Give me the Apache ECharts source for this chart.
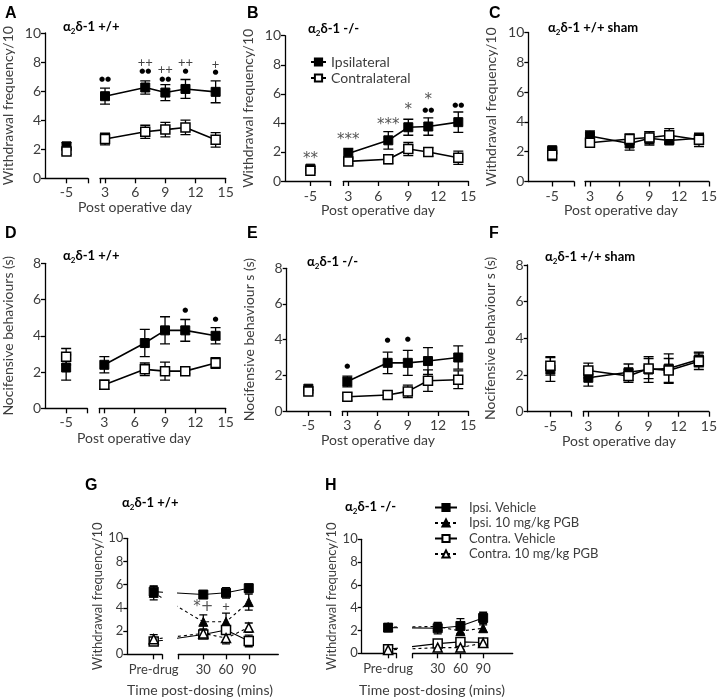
<!DOCTYPE html>
<html><head><meta charset="utf-8">
<script src="https://cdn.jsdelivr.net/npm/echarts@6/dist/echarts.min.js"></script>
<style>html,body{margin:0;padding:0;background:#fff}#c{width:720px;height:698px}</style>
</head><body><div id="c"></div>
<script>
// ---------------- DATA ----------------
const daysAF = [-5, 3, 7, 9, 11, 14];
const dayTickLabels = [3, 6, 9, 12, 15];
const preTickLabels = [-5];

const A_ipsi = [2.2, 5.65, 6.25, 5.9, 6.15, 5.95];
const A_ipsiErr = [0.25, 0.55, 0.45, 0.55, 0.65, 0.75];
const A_contra = [1.85, 2.7, 3.2, 3.35, 3.5, 2.65];
const A_contraErr = [0.2, 0.4, 0.45, 0.5, 0.5, 0.5];
const A_marks = [[3, 6.8, '●●'], [7, 7.35, '●●'], [7, 7.95, '++'], [9, 6.8, '●●'], [9, 7.45, '++'], [11, 7.35, '●'], [11, 7.95, '++'], [14, 7.3, '●'], [14, 7.8, '+']];

const B_ipsi = [0.85, 1.9, 2.8, 3.7, 3.75, 4.05];
const B_ipsiErr = [0.15, 0.35, 0.6, 0.55, 0.6, 0.7];
const B_contra = [0.7, 1.35, 1.5, 2.2, 2.0, 1.6];
const B_contraErr = [0.15, 0.15, 0.3, 0.45, 0.3, 0.45];
const B_marks = [[-5, 1.5, '**'], [3, 2.8, '***'], [7, 3.85, '***'], [9, 4.9, '*'], [11, 5.6, '*'], [11, 4.9, '●●'], [14, 5.2, '●●']];

const C_ipsi = [2.1, 3.05, 2.55, 2.9, 2.75, 2.9];
const C_ipsiErr = [0.2, 0.35, 0.45, 0.45, 0.2, 0.3];
const C_contra = [1.8, 2.6, 2.85, 2.95, 3.1, 2.8];
const C_contraErr = [0.4, 0.2, 0.35, 0.4, 0.45, 0.45];
const C_marks = [];

const D_ipsi = [2.25, 2.4, 3.6, 4.3, 4.3, 4.0];
const D_ipsiErr = [0.7, 0.45, 0.75, 0.75, 0.6, 0.45];
const D_contra = [2.85, 1.3, 2.15, 2.05, 2.05, 2.5];
const D_contraErr = [0.45, 0.25, 0.35, 0.5, 0.15, 0.3];
const D_marks = [[11, 5.4, '●'], [14, 4.9, '●']];

const E_ipsi = [1.25, 1.65, 2.7, 2.7, 2.8, 3.0];
const E_ipsiErr = [0.1, 0.3, 0.6, 0.7, 0.75, 0.65];
const E_contra = [1.1, 0.8, 0.9, 1.1, 1.7, 1.75];
const E_contraErr = [0.1, 0.2, 0.15, 0.35, 0.6, 0.5];
const E_marks = [[3, 2.5, '●'], [7, 3.95, '●'], [9, 4.05, '●']];

const F_ipsi = [2.3, 1.85, 2.15, 2.3, 2.35, 2.85];
const F_ipsiErr = [0.65, 0.45, 0.45, 0.7, 0.8, 0.4];
const F_contra = [2.5, 2.25, 1.95, 2.35, 2.25, 2.75];
const F_contraErr = [0.5, 0.4, 0.35, 0.55, 0.65, 0.45];
const F_marks = [];

// G / H : time axis; pre-drug is plotted at its own slot on the broken axis
const timesGH = [-35, 30, 60, 90];
const timeLabelsGH = ['Pre-drug', '30', '60', '90'];

const G_ipsiVeh = [5.4, 5.15, 5.3, 5.7];
const G_ipsiVehErr = [0.45, 0.3, 0.45, 0.35];
const G_ipsiPGB = [5.3, 2.8, 2.8, 4.5];
const G_ipsiPGBErr = [0.6, 0.6, 0.75, 0.7];
const G_contraVeh = [1.1, 1.7, 2.1, 1.15];
const G_contraVehErr = [0.3, 0.3, 0.35, 0.5];
const G_contraPGB = [1.3, 1.8, 1.4, 2.3];
const G_contraPGBErr = [0.4, 0.3, 0.5, 0.4];
const G_marks = [[30, 4.1, '*+'], [60, 4.1, '+']];

const H_ipsiVeh = [2.25, 2.2, 2.4, 3.1];
const H_ipsiVehErr = [0.3, 0.5, 0.65, 0.5];
const H_ipsiPGB = [2.3, 2.35, 1.95, 2.2];
const H_ipsiPGBErr = [0.3, 0.3, 0.3, 0.3];
const H_contraVeh = [0.35, 0.85, 1.0, 0.95];
const H_contraVehErr = [0.2, 0.2, 0.35, 0.3];
const H_contraPGB = [0.3, 0.5, 0.5, 0.9];
const H_contraPGBErr = [0.15, 0.15, 0.15, 0.25];
const H_marks = [];

const legendAF = ['Ipsilateral', 'Contralateral'];
const legendGH = ['Ipsi. Vehicle', 'Ipsi. 10 mg/kg PGB', 'Contra. Vehicle', 'Contra. 10 mg/kg PGB'];

// ---------------- LAYOUT / STYLE ----------------
const FONT = 'Lato';
const TXT = '#3d3d3d';
const grids = [], xAxis = [], yAxis = [], series = [], graphic = [];

function addAxes(cfg) {
  const gi = grids.length;
  grids.push({left: cfg.L[0], top: cfg.L[1], width: cfg.L[2], height: cfg.L[3]});
  grids.push({left: cfg.R[0], top: cfg.R[1], width: cfg.R[2], height: cfg.R[3]});
  const axLine = {show: true, onZero: false, lineStyle: {color: '#000', width: 1.3}};
  const tick = {show: true, length: 5, lineStyle: {color: '#000', width: 1.3}};
  const lab = {color: TXT, fontFamily: FONT, fontSize: cfg.fs, margin: cfg.xMargin, formatter: cfg.fmt};
  xAxis.push({gridIndex: gi, type: 'value', min: cfg.xL[0], max: cfg.xL[1], axisLine: axLine,
    axisTick: Object.assign({}, tick, {customValues: cfg.tickL}),
    axisLabel: Object.assign({}, lab, {customValues: cfg.labL}), splitLine: {show: false}});
  xAxis.push({gridIndex: gi + 1, type: 'value', min: cfg.xR[0], max: cfg.xR[1], axisLine: axLine,
    axisTick: Object.assign({}, tick, {customValues: cfg.tickR}),
    axisLabel: Object.assign({}, lab, {customValues: cfg.labR}), splitLine: {show: false}});
  yAxis.push({gridIndex: gi, type: 'value', min: 0, max: cfg.ymax, interval: 2,
    name: cfg.yName, nameLocation: 'middle', nameGap: cfg.nameGap,
    nameTextStyle: {color: TXT, fontFamily: FONT, fontSize: cfg.nameFs},
    axisLine: axLine, axisTick: {show: true, length: 4, lineStyle: {color: '#000', width: 1.3}},
    axisLabel: {color: TXT, fontFamily: FONT, fontSize: cfg.fs, margin: 4}, splitLine: {show: false}});
  yAxis.push({gridIndex: gi + 1, type: 'value', min: 0, max: cfg.ymax, show: false});
  return gi;
}

function errSeries(data, ai, cap) {
  return {type: 'custom', xAxisIndex: ai, yAxisIndex: ai, clip: true, z: 2, silent: true, data: data,
    encode: {x: 0, y: 1},
    renderItem: function (params, api) {
      const x = api.value(0), y = api.value(1), e = api.value(2);
      const t = api.coord([x, y + e]), b = api.coord([x, y - e]);
      const st = {stroke: '#000', lineWidth: 1.3, fill: null};
      return {type: 'group', children: [
        {type: 'line', shape: {x1: t[0], y1: t[1], x2: b[0], y2: b[1]}, style: st},
        {type: 'line', shape: {x1: t[0] - cap, y1: t[1], x2: t[0] + cap, y2: t[1]}, style: st},
        {type: 'line', shape: {x1: b[0] - cap, y1: b[1], x2: b[0] + cap, y2: b[1]}, style: st}
      ]};
    }};
}

function lineSeries(name, data, ai, filled, symbol, dashed, lw, z) {
  return {type: 'line', name: name, xAxisIndex: ai, yAxisIndex: ai, data: data, clip: true, z: z,
    symbol: symbol, symbolSize: 9, showSymbol: true, animation: false, silent: true,
    lineStyle: {color: '#000', width: lw, type: dashed ? [3, 3] : 'solid'},
    itemStyle: filled ? {color: '#000', borderColor: '#000', borderWidth: 1}
                      : {color: '#fff', borderColor: '#000', borderWidth: 1.5},
    emphasis: {disabled: true}};
}

function markSeries(marks, ai) {
  if (!marks.length) return null;
  return {type: 'custom', xAxisIndex: ai, yAxisIndex: ai, z: 6, silent: true, clip: false,
    data: marks.map(m => [m[0], m[1]]), encode: {x: 0, y: 1},
    renderItem: function (params, api) {
      const p = api.coord([api.value(0), api.value(1)]);
      const t = marks[params.dataIndex][2];
      let font = '13px Lato', fill = '#444';
      if (t.indexOf('●') >= 0) { font = '7px "DejaVu Sans"'; fill = '#000'; }
      else if (t.indexOf('*') >= 0) { font = '15px "DejaVu Sans"'; fill = '#555'; }
      return {type: 'text', x: p[0], y: p[1], style: {text: t, font: font, fill: fill,
        align: 'center', verticalAlign: 'middle', textAlign: 'center', textVerticalAlign: 'middle'}};
    }};
}

function titleRich(x, y, rest) {
  graphic.push({type: 'text', x: x, y: y, style: {
    text: '{a|α}{s|2}{a|δ-1 ' + rest + '}', verticalAlign: 'middle', textVerticalAlign: 'middle',
    rich: {a: {fontFamily: FONT, fontWeight: 'bold', fontSize: 13, fill: '#000', lineHeight: 16, verticalAlign: 'middle'},
           s: {fontFamily: FONT, fontWeight: 'bold', fontSize: 8, fill: '#000', lineHeight: 16, verticalAlign: 'bottom'}}}});
}
function letter(x, y, t) {
  graphic.push({type: 'text', x: x, y: y, style: {text: t, font: 'bold 16px "Liberation Sans"', fill: '#000',
    verticalAlign: 'middle', textVerticalAlign: 'middle'}});
}
function xName(x, y, t) {
  graphic.push({type: 'text', x: x, y: y, style: {text: t, fontFamily: FONT, fontSize: 14, fill: TXT,
    align: 'center', textAlign: 'center', verticalAlign: 'middle', textVerticalAlign: 'middle'}});
}

const panelsAF = [
  {k: 'A', ipsi: A_ipsi, ie: A_ipsiErr, con: A_contra, ce: A_contraErr, marks: A_marks, ymax: 10,
   yName: 'Withdrawal frequency/10', L: [45, 33, 43, 145.3], R: [100, 33, 125.7, 145.3], xL: [-7, -3],
   letter: [5, 14], title: [63, 27, '+/+'], xname: [135, 207], xm: 7},
  {k: 'B', ipsi: B_ipsi, ie: B_ipsiErr, con: B_contra, ce: B_contraErr, marks: B_marks, ymax: 10,
   yName: 'Withdrawal frequency/10', L: [285, 35.7, 45.7, 145.3], R: [343.3, 35.7, 125, 145.3], xL: [-7.5, -3],
   letter: [247, 14], title: [308, 29, '-/-'], xname: [378, 210], xm: 8},
  {k: 'C', ipsi: C_ipsi, ie: C_ipsiErr, con: C_contra, ce: C_contraErr, marks: C_marks, ymax: 10,
   yName: 'Withdrawal frequency/10', L: [528.3, 32.5, 45.7, 149], R: [585, 32.5, 126.7, 149], xL: [-7.2, -3],
   letter: [489, 14], title: [548, 28, '+/+ sham'], xname: [621, 210], xm: 8},
  {k: 'D', ipsi: D_ipsi, ie: D_ipsiErr, con: D_contra, ce: D_contraErr, marks: D_marks, ymax: 8,
   yName: 'Nocifensive behaviours (s)', L: [44.3, 263.3, 43, 145], R: [99.3, 263.3, 126.4, 145], xL: [-7, -3],
   letter: [5, 234], title: [63, 256, '+/+'], xname: [134, 438], xm: 7},
  {k: 'E', ipsi: E_ipsi, ie: E_ipsiErr, con: E_contra, ce: E_contraErr, marks: E_marks, ymax: 8,
   yName: 'Nocifensive behaviour s (s)', L: [286.7, 268.3, 43.3, 142.7], R: [342.3, 268.3, 126, 142.7], xL: [-7, -3],
   letter: [247, 234], title: [307, 262, '-/-'], xname: [378, 440], xm: 7},
  {k: 'F', ipsi: F_ipsi, ie: F_ipsiErr, con: F_contra, ce: F_contraErr, marks: F_marks, ymax: 8,
   yName: 'Nocifensive behaviour s (s)', L: [527.7, 265, 43.3, 146.7], R: [583.3, 265, 127.7, 146.7], xL: [-7.2, -3],
   letter: [489, 234], title: [545, 257, '+/+ sham'], xname: [619, 441], xm: 8}
];

panelsAF.forEach(p => {
  const gi = addAxes({L: p.L, R: p.R, xL: p.xL, xR: [2.5, 15], ymax: p.ymax, yName: p.yName,
    nameGap: 30, nameFs: 14, fs: 14, xMargin: p.xm,
    tickL: preTickLabels.concat([p.xL[1]]), labL: preTickLabels,
    tickR: [2.5].concat(dayTickLabels), labR: dayTickLabels, fmt: v => String(v)});
  const ip = daysAF.map((d, i) => [d, p.ipsi[i], p.ie[i]]);
  const cp = daysAF.map((d, i) => [d, p.con[i], p.ce[i]]);
  [[gi, v => v[0] < 0], [gi + 1, v => v[0] > 0]].forEach(([ai, f]) => {
    series.push(errSeries(ip.filter(f), ai, 5));
    series.push(errSeries(cp.filter(f), ai, 5));
    series.push(lineSeries(legendAF[0], ip.filter(f).map(v => [v[0], v[1]]), ai, true, 'rect', false, 1.6, 3));
    series.push(lineSeries(legendAF[1], cp.filter(f).map(v => [v[0], v[1]]), ai, false, 'rect', false, 1.6, 4));
    const ms = markSeries(p.marks.filter(f), ai);
    if (ms) series.push(ms);
  });
  letter(p.letter[0], p.letter[1], p.k);
  titleRich(p.title[0], p.title[1], p.title[2]);
  xName(p.xname[0], p.xname[1], 'Post operative day');
});

const panelsGH = [
  {k: 'G', groups: [[G_ipsiVeh, G_ipsiVehErr], [G_ipsiPGB, G_ipsiPGBErr], [G_contraVeh, G_contraVehErr], [G_contraPGB, G_contraPGBErr]],
   marks: G_marks, L: [127.3, 538.3, 34.7, 116], R: [178.3, 538.3, 100, 116],
   letter: [85, 486], title: [122, 503, '+/+'], xname: [200, 690]},
  {k: 'H', groups: [[H_ipsiVeh, H_ipsiVehErr], [H_ipsiPGB, H_ipsiPGBErr], [H_contraVeh, H_contraVehErr], [H_contraPGB, H_contraPGBErr]],
   marks: H_marks, L: [361.7, 539.3, 34.7, 114], R: [412.7, 539.3, 100, 114],
   letter: [325, 486], title: [345, 507, '-/-'], xname: [432, 690]}
];
const styleGH = [[true, 'rect', false], [true, 'triangle', true], [false, 'rect', false], [false, 'triangle', true]];

panelsGH.forEach(p => {
  const gi = addAxes({L: p.L, R: p.R, xL: [-70, -24], xR: [-3, 129], ymax: 10, yName: 'Withdrawal frequency/10',
    nameGap: 20, nameFs: 13, fs: 13, xMargin: 9,
    tickL: [timesGH[0], -24], labL: [timesGH[0]],
    tickR: [-3].concat(timesGH.slice(1)), labR: timesGH.slice(1),
    fmt: v => { const i = timesGH.indexOf(v); return i >= 0 ? timeLabelsGH[i] : ''; }});
  [gi, gi + 1].forEach(ai => {
    p.groups.forEach((g) => series.push(errSeries(timesGH.map((t, i) => [t, g[0][i], g[1][i]]), ai, 4)));
    p.groups.forEach((g, j) => {
      const s = styleGH[j];
      series.push(lineSeries(legendGH[j], timesGH.map((t, i) => [t, g[0][i]]), ai, s[0], s[1], s[2], 1.1, 3 + j));
    });
    const ms = markSeries(p.marks.filter(m => ai === gi ? m[0] < 0 : m[0] > 0), ai);
    if (ms) series.push(ms);
  });
  letter(p.letter[0], p.letter[1], p.k);
  titleRich(p.title[0], p.title[1], p.title[2]);
  xName(p.xname[0], p.xname[1], 'Time post-dosing (mins)');
});

const chart = echarts.init(document.getElementById('c'), null, {renderer: 'canvas'});
chart.setOption({
  animation: false,
  backgroundColor: '#fff',
  grid: grids, xAxis: xAxis, yAxis: yAxis, series: series, graphic: graphic,
  legend: [
    {data: legendAF, orient: 'vertical', left: 305, top: 50, itemWidth: 15, itemHeight: 9, itemGap: 2,
     selectedMode: false, textStyle: {fontFamily: FONT, fontSize: 14, color: TXT, lineHeight: 13}},
    {data: legendGH, orient: 'vertical', left: 429, top: 496, itemWidth: 22, itemHeight: 9, itemGap: 2.5,
     selectedMode: false, textStyle: {fontFamily: FONT, fontSize: 13, color: TXT, lineHeight: 13, padding: [0, 0, 0, 7]}}
  ]
});
</script></body></html>
